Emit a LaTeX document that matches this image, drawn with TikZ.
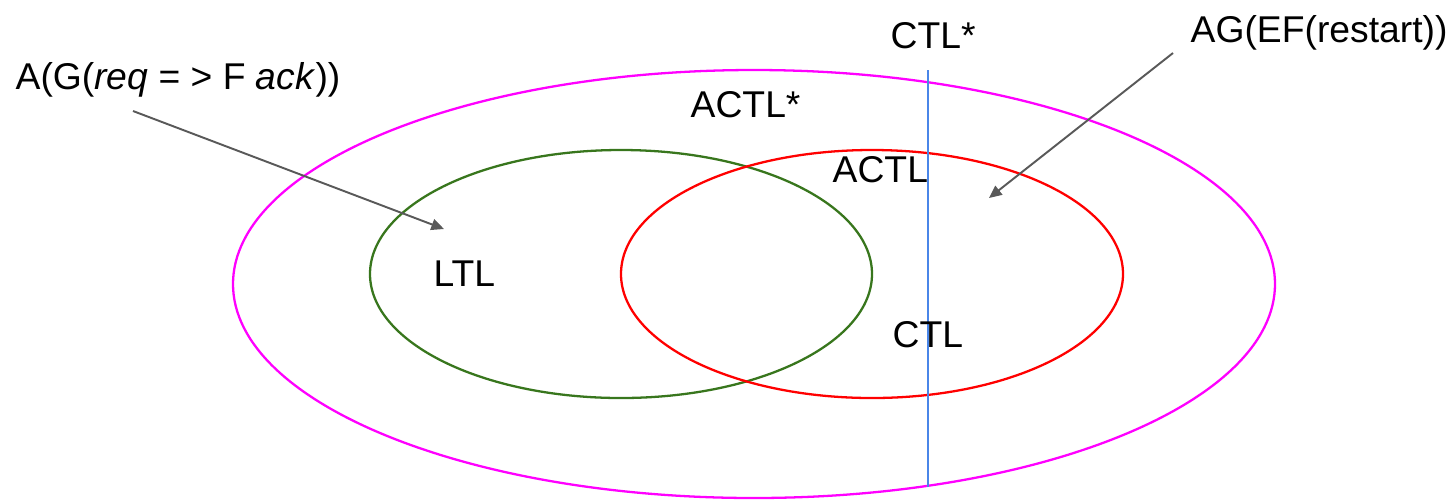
\documentclass[tikz,border=0pt]{standalone}
\usepackage{fontspec}
\setmainfont{Liberation Sans}
\usetikzlibrary{arrows.meta}

\definecolor{setpink}{HTML}{FF00FF}
\definecolor{setgreen}{HTML}{38761D}
\definecolor{setred}{HTML}{FF0000}
\definecolor{cutblue}{HTML}{4A86E8}
\definecolor{pointgray}{HTML}{595959}

\begin{document}
\begin{tikzpicture}
  [x = .01cm, y = -.01cm,
   setline/.style = {line width = .65pt},
   logic/.style = {anchor = base west, inner sep = 0pt,
                   font = \fontsize{10.6}{12}\selectfont},
   pointer/.style = {draw = pointgray, line width = .55pt,
                     -{Triangle[length = 3.6pt, width = 3.2pt]}}]
  \useasboundingbox (0,0) rectangle (1454,502);
  % the three sets
  \draw[setline, setpink] (754,284) ellipse [x radius = 521, y radius = 214];
  \draw[setline, setgreen] (621,274) ellipse [x radius = 251, y radius = 124];
  \draw[setline, setred] (872,274) ellipse [x radius = 251, y radius = 124];
  % CTL cut
  \coordinate (cuttop) at (928,70);
  \coordinate (cutbot) at (928,487);
  \draw[line width = .6pt, cutblue] (cuttop) -- (cutbot);
  % names
  \node[logic] (ctlstar) at (890,48) {CTL*};
  \node[logic] (actlstar) at (690,117) {ACTL*};
  \node[logic] (actl) at (832,182) {ACTL};
  \node[logic] (ltl) at (433,286) {LTL};
  \node[logic] (ctl) at (892,347) {CTL};
  % examples
  \node[logic] (ltlex) at (15,89) {A(G(\textit{req} = > F \textit{ack}))};
  \node[logic] (ctlex) at (1190,42) {AG(EF(restart))};
  \coordinate (ltlfrom) at (133,111);
  \coordinate (ltlto) at (444,229);
  \coordinate (ctlfrom) at (1173,53);
  \coordinate (ctlto) at (989,198);
  \draw[pointer] (ltlfrom) -- (ltlto);
  \draw[pointer] (ctlfrom) -- (ctlto);
\end{tikzpicture}
\end{document}
